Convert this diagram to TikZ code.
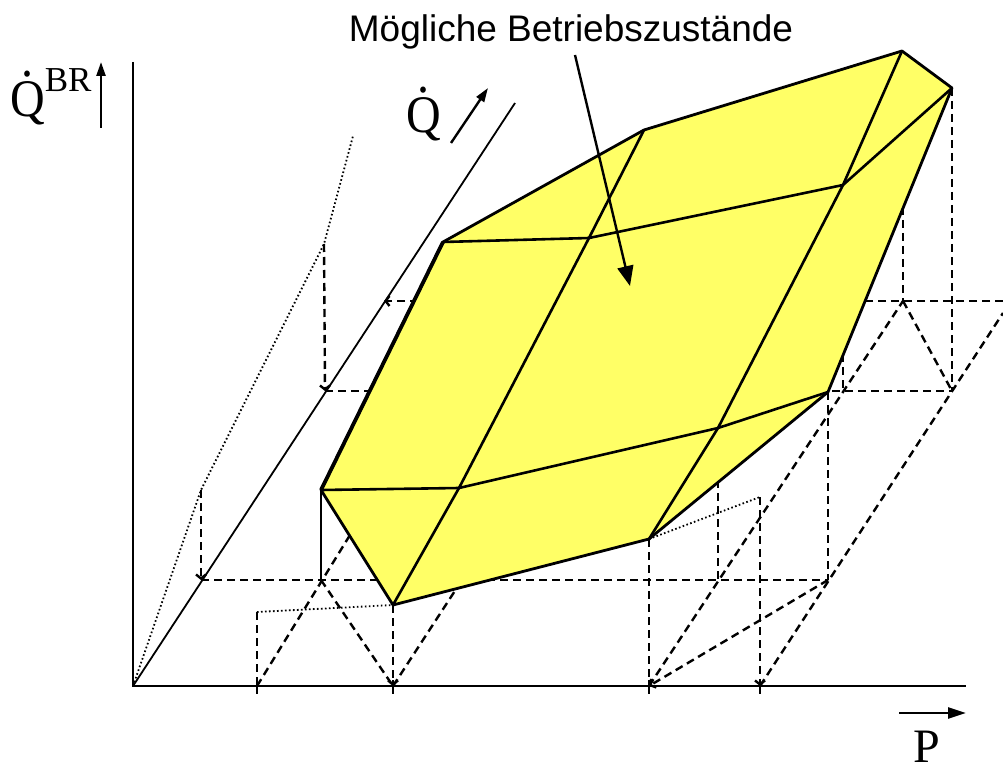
\documentclass[tikz,border=0pt]{standalone}
\usepackage{fontspec}
\setmainfont{Liberation Serif}
\newfontfamily\arialfont{Liberation Sans}
\usetikzlibrary{arrows.meta}
\definecolor{polyyellow}{RGB}{255,255,102}
\newcommand\dotQ{\setbox0\hbox{Q}\rlap{\hbox to\wd0{\hss\raisebox{0.76em}{.}\hss}}\box0}
\begin{document}
\begin{tikzpicture}[x=1pt,y=-1pt,
  axln/.style={line width=2.6pt},
  thinln/.style={line width=1.8pt},
  dsh/.style={line width=2.4pt, dash pattern=on 8pt off 5pt},
  dots/.style={line width=1.8pt, dash pattern=on 1.6pt off 2.4pt},
  outl/.style={line width=2.8pt, line join=round},
  inln/.style={line width=2.6pt, line join=round},
  tipV/.style={-{Straight Barb[length=4pt,width=10pt]}},
  bigarrow/.style={line width=2.4pt, -{Triangle[length=14pt,width=9pt]}},
  tickln/.style={line width=2.4pt}
]
\useasboundingbox (0,0) rectangle (1003,767);

% axes and reference points
\coordinate (O) at (133,686);
\coordinate (Ytop) at (133,62);
\coordinate (Xend) at (966,686);
\coordinate (Qend) at (515,103);
% dotted curve
\coordinate (c1) at (201,490);
\coordinate (c2) at (324,244);
\coordinate (c3) at (353,136);
% polygon
\coordinate (A) at (321,490);
\coordinate (B) at (443,242);
\coordinate (C) at (644,130);
\coordinate (D) at (902,51);
\coordinate (E) at (952,88);
\coordinate (F) at (828,392);
\coordinate (G) at (649,539);
\coordinate (H) at (393,605);
\coordinate (I1) at (459,488);
\coordinate (I2) at (718,428);
\coordinate (I3) at (589,238);
\coordinate (I4) at (843,185);
% floor points
\coordinate (Af) at (321,580);
\coordinate (Qa) at (201,580);
\coordinate (Qb) at (325,391);
\coordinate (Qc) at (384,301);
\coordinate (Hf) at (393,686);
\coordinate (Gf) at (649,686);
\coordinate (Ff) at (828,580);
\coordinate (Ef) at (952,391);
\coordinate (Df) at (903,301);
\coordinate (I2f) at (718,580);
\coordinate (I4f) at (843,391);
\coordinate (Dtop) at (903,51);
\coordinate (p257top) at (257,612);
\coordinate (p257) at (257,686);
\coordinate (p760top) at (760,497);
\coordinate (p760) at (760,686);
\coordinate (R301) at (1003,301);
\coordinate (R21) at (1003,313);
\coordinate (h16) at (350,535);
\coordinate (h18) at (462,580);

% dotted lines
\draw[dots] (O) -- (c1) -- (c2) -- (c3);
\draw[dots] (p257top) -- (H);
\draw[dots] (G) -- (p760top);

% dashed construction lines
\draw[dsh, tipV] (c1) -- (Qa);
\draw[dsh, tipV] (c2) -- (Qb);
\draw[dsh] (Qa) -- (Ff);
\draw[dsh] (Qb) -- (Ef);
\draw[dsh, tipV] (R301) -- (Qc);
\draw[dsh] (p257top) -- (p257);
\draw[dsh, tipV] (H) -- (Hf);
\draw[dsh] (G) -- (Gf);
\draw[dsh, tipV] (p760top) -- (p760);
\draw[dsh] (I2) -- (I2f);
\draw[dsh] (F) -- (Ff);
\draw[dsh] (I4) -- (I4f);
\draw[dsh] (Dtop) -- (Df);
\draw[dsh] (E) -- (Ef);
\draw[dsh] (p257) -- (h16);
\draw[dsh] (Af) -- (Hf);
\draw[dsh] (Hf) -- (h18);
\draw[dsh] (Gf) -- (Df);
\draw[dsh, tipV] (Ff) -- (Gf);
\draw[dsh] (p760) -- (R21);
\draw[dsh] (Df) -- (Ef);

% ticks below axis
\foreach \tx in {257,393,649,760}{
  \draw[tickln] (\tx,680) -- (\tx,694);
}

% solid vertical from A
\draw[line width=2.4pt] (A) -- (Af);

% axes
\draw[axln] (Ytop) -- (O) -- (Xend);
\draw[thinln] (O) -- (Qend);

% polygon
\fill[polyyellow] (A) -- (B) -- (C) -- (D) -- (E) -- (F) -- (G) -- (H) -- cycle;
\draw[inln] (A) -- (I1) -- (I2) -- (F);
\draw[inln] (B) -- (I3) -- (I4) -- (E);
\draw[inln] (H) -- (I1) -- (I3) -- (C);
\draw[inln] (G) -- (I2) -- (I4) -- (D);
\draw[outl] (A) -- (B) -- (C) -- (D) -- (E) -- (F) -- (G) -- (H) -- cycle;
\draw[line width=3.8pt] (A) -- (B);

% labels
\node[anchor=base, inner sep=0pt, font=\arialfont\fontsize{37}{40}\selectfont] (lbl) at (571,42) {Mögliche Betriebszustände};
\coordinate (lblfrom) at (575,55);
\coordinate (lblto) at (630,286);
\draw[line width=2.4pt, -{Triangle[length=20pt,width=16pt]}] (lblfrom) -- (lblto);

\node[anchor=base west, inner sep=0pt] (qbr) at (10,117)
  {{\fontsize{48}{50}\selectfont\scalebox{1}[1.1]{\dotQ}}{\fontsize{35}{38}\selectfont\raisebox{25pt}{BR}}};
\coordinate (qbrA) at (101,128);
\coordinate (qbrB) at (101,62);
\draw[bigarrow] (qbrA) -- (qbrB);

\node[anchor=base west, inner sep=0pt] (qd) at (406,133)
  {\fontsize{48}{50}\selectfont\scalebox{1}[1.1]{\dotQ}};
\coordinate (qdA) at (451,143);
\coordinate (qdB) at (488,88);
\draw[bigarrow] (qdA) -- (qdB);

\node[anchor=base west, inner sep=0pt] (pl) at (913,762)
  {\fontsize{48}{50}\selectfont P};
\coordinate (pA) at (899,713);
\coordinate (pB) at (966,713);
\draw[line width=2.4pt, -{Triangle[length=18pt,width=11pt]}] (pA) -- (pB);
\end{tikzpicture}
\end{document}
